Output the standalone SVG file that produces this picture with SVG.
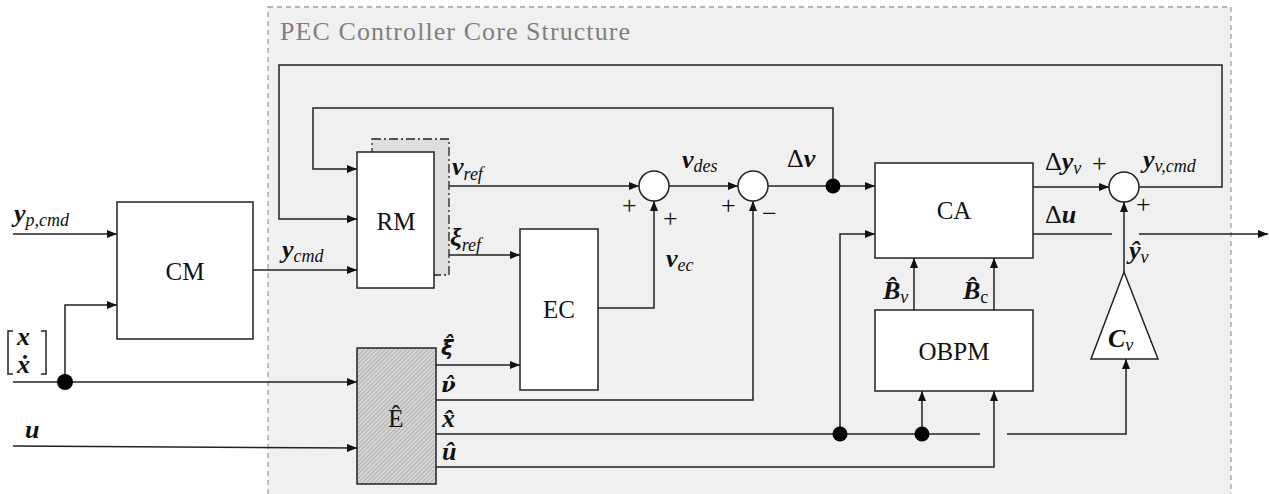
<svg xmlns="http://www.w3.org/2000/svg" width="1269" height="494" viewBox="0 0 1269 494">
<style>
.ln{fill:none;stroke:#222;stroke-width:1.5}
.box{fill:#fff;stroke:#222;stroke-width:1.5}
.blk{font-family:"Liberation Serif","DejaVu Serif",serif;font-size:25px;fill:#111;text-anchor:middle}
.v{font-family:"Liberation Serif","DejaVu Serif",serif;font-size:26px;font-weight:bold;font-style:italic;fill:#111}
.vd{font-family:"DejaVu Serif",serif;font-size:21px;font-weight:bold;font-style:italic;fill:#111}
.vs{font-family:"DejaVu Sans",sans-serif;font-size:21px;font-weight:bold;font-style:italic;fill:#111}
.s{font-size:18px;font-weight:normal;font-style:italic}
.su{font-size:18px;font-weight:normal;font-style:normal}
.d{font-weight:normal;font-style:normal}
.sg{font-family:"Liberation Serif","DejaVu Serif",serif;font-size:26px;fill:#111}
.dot{fill:#000}
</style>
<defs>
<marker id="ar" markerWidth="10" markerHeight="8" refX="10" refY="4" orient="auto" markerUnits="userSpaceOnUse">
<path d="M0,0 L10,4 L0,8 Z" fill="#111"/>
</marker>
<pattern id="hatch" width="3" height="3" patternUnits="userSpaceOnUse" patternTransform="rotate(45)">
<rect width="3" height="3" fill="#d6d6d6"/>
<line x1="0" y1="0" x2="0" y2="3" stroke="#8a8a8a" stroke-width="1"/>
</pattern>
</defs>

<g id="core-frame">
<rect x="268" y="7" width="963" height="500" fill="#f0f0f0" stroke="#a0a0a0" stroke-width="1.3" stroke-dasharray="5,4"/>
<text x="280" y="40" font-family="Liberation Serif, DejaVu Serif, serif" font-size="26" fill="#7f7f7f" textLength="350">PEC Controller Core Structure</text>
</g>

<g id="connectors">
<path class="ln" d="M13,234 H117" marker-end="url(#ar)"/>
<path class="ln" d="M13,382 H357" marker-end="url(#ar)"/>
<path class="ln" d="M65,382 V305 H117" marker-end="url(#ar)"/>
<path class="ln" d="M13,446 L357,448" marker-end="url(#ar)"/>
<path class="ln" d="M253,270 H357" marker-end="url(#ar)"/>
<path class="ln" d="M1139,187 H1222 V65 H279 V219 H357" marker-end="url(#ar)"/>
<path class="ln" d="M833,186 V108 H313 V169 H357" marker-end="url(#ar)"/>
<path class="ln" d="M434,186 H639" marker-end="url(#ar)"/>
<path class="ln" d="M434,255 H520" marker-end="url(#ar)"/>
<path class="ln" d="M598,308 H654 V201" marker-end="url(#ar)"/>
<path class="ln" d="M669,186 H738" marker-end="url(#ar)"/>
<path class="ln" d="M436,400 H753 V201" marker-end="url(#ar)"/>
<path class="ln" d="M768,186 H875" marker-end="url(#ar)"/>
<path class="ln" d="M840,434 V234 H875" marker-end="url(#ar)"/>
<path class="ln" d="M1033,187 H1109" marker-end="url(#ar)"/>
<path class="ln" d="M1033,234 H1112"/>
<path class="ln" d="M1139,234 H1268" marker-end="url(#ar)"/>
<path class="ln" d="M1124,272 V202" marker-end="url(#ar)"/>
<path class="ln" d="M914,310 V258" marker-end="url(#ar)"/>
<path class="ln" d="M994,310 V258" marker-end="url(#ar)"/>
<path class="ln" d="M436,365 H520" marker-end="url(#ar)"/>
<path class="ln" d="M436,434 H980"/>
<path class="ln" d="M1007,434 H1126 V359" marker-end="url(#ar)"/>
<path class="ln" d="M922,434 V391" marker-end="url(#ar)"/>
<path class="ln" d="M436,467 H994 V391" marker-end="url(#ar)"/>
<circle class="dot" cx="65" cy="382" r="8"/>
<circle class="dot" cx="833" cy="186" r="7.5"/>
<circle class="dot" cx="840" cy="434" r="7.5"/>
<circle class="dot" cx="922" cy="434" r="7.5"/>
</g>

<g id="CM">
<rect class="box" x="117" y="202" width="136" height="137"/>
<text class="blk" x="185" y="280">CM</text>
</g>

<g id="RM">
<rect x="372" y="139" width="77" height="136" fill="#dedede" stroke="#222" stroke-width="1.3" stroke-dasharray="9,3,2,3"/>
<rect class="box" x="357" y="152" width="77" height="136"/>
<text class="blk" x="396" y="230">RM</text>
</g>

<g id="EC">
<rect class="box" x="520" y="229" width="78" height="161"/>
<text class="blk" x="559" y="318">EC</text>
</g>

<g id="E">
<rect x="357" y="348" width="79" height="136" fill="url(#hatch)" stroke="#222" stroke-width="1.5"/>
<text class="blk" x="396" y="427">Ê</text>
</g>

<g id="sum1"><circle class="box" cx="654" cy="186" r="15"/></g>
<g id="sum2"><circle class="box" cx="753" cy="186" r="15"/></g>
<g id="sum3"><circle class="box" cx="1124" cy="187" r="15"/></g>

<g id="CA">
<rect class="box" x="875" y="163" width="158" height="95"/>
<text class="blk" x="954" y="219">CA</text>
</g>

<g id="OBPM">
<rect class="box" x="875" y="310" width="158" height="81"/>
<text class="blk" x="954" y="360">OBPM</text>
</g>

<g id="Cv">
<path class="box" d="M1124,272 L1158,359 L1091,359 Z"/>
<text class="v" x="1108" y="347" font-size="25">C<tspan class="s" dy="4">v</tspan></text>
</g>

<g id="labels">
<text class="v" x="14" y="222">y<tspan class="s" dy="4">p,cmd</tspan></text>
<path class="ln" d="M13,331 H8 V374 H13 M41,331 H46 V374 H41" stroke-width="1.3"/>
<text class="v" x="17" y="345" font-size="17">x</text>
<text class="v" x="17" y="373" font-size="17">ẋ</text>
<text class="v" x="25" y="438" font-size="25">u</text>
<text class="v" x="282" y="258">y<tspan class="s" dy="4">cmd</tspan></text>
<text class="v" x="452" y="175">ν<tspan class="s" dy="5">ref</tspan></text>
<text class="v" x="450" y="246">ξ<tspan class="s" dy="5">ref</tspan></text>
<text class="sg" x="622" y="214">+</text>
<text class="sg" x="663" y="227">+</text>
<text class="v" x="682" y="168">ν<tspan class="s" dy="4">des</tspan></text>
<text class="sg" x="721" y="214">+</text>
<text class="sg" x="762" y="222">−</text>
<text class="v" x="666" y="267">ν<tspan class="s" dy="4">ec</tspan></text>
<text class="v" x="787" y="167"><tspan class="d">Δ</tspan>ν</text>
<text class="v" x="1045" y="170"><tspan class="d">Δ</tspan>y<tspan class="s" dy="4">v</tspan></text>
<text class="sg" x="1092" y="172">+</text>
<text class="v" x="1143" y="168">y<tspan class="s" dy="4">v,cmd</tspan></text>
<text class="sg" x="1136" y="213">+</text>
<text class="v" x="1045" y="223"><tspan class="d">Δ</tspan>u</text>
<text class="v" x="1129" y="259">ŷ<tspan class="s" dy="4">v</tspan></text>
<text class="v" x="883" y="299">B̂<tspan class="s" dy="4">v</tspan></text>
<text class="v" x="963" y="299">B̂<tspan class="su" dy="4">c</tspan></text>
<text class="vs" x="441" y="355">ξ̂</text>
<text class="vd" x="441" y="392">ν̂</text>
<text class="v" x="442" y="427">x̂</text>
<text class="v" x="442" y="460">û</text>
</g>
</svg>
